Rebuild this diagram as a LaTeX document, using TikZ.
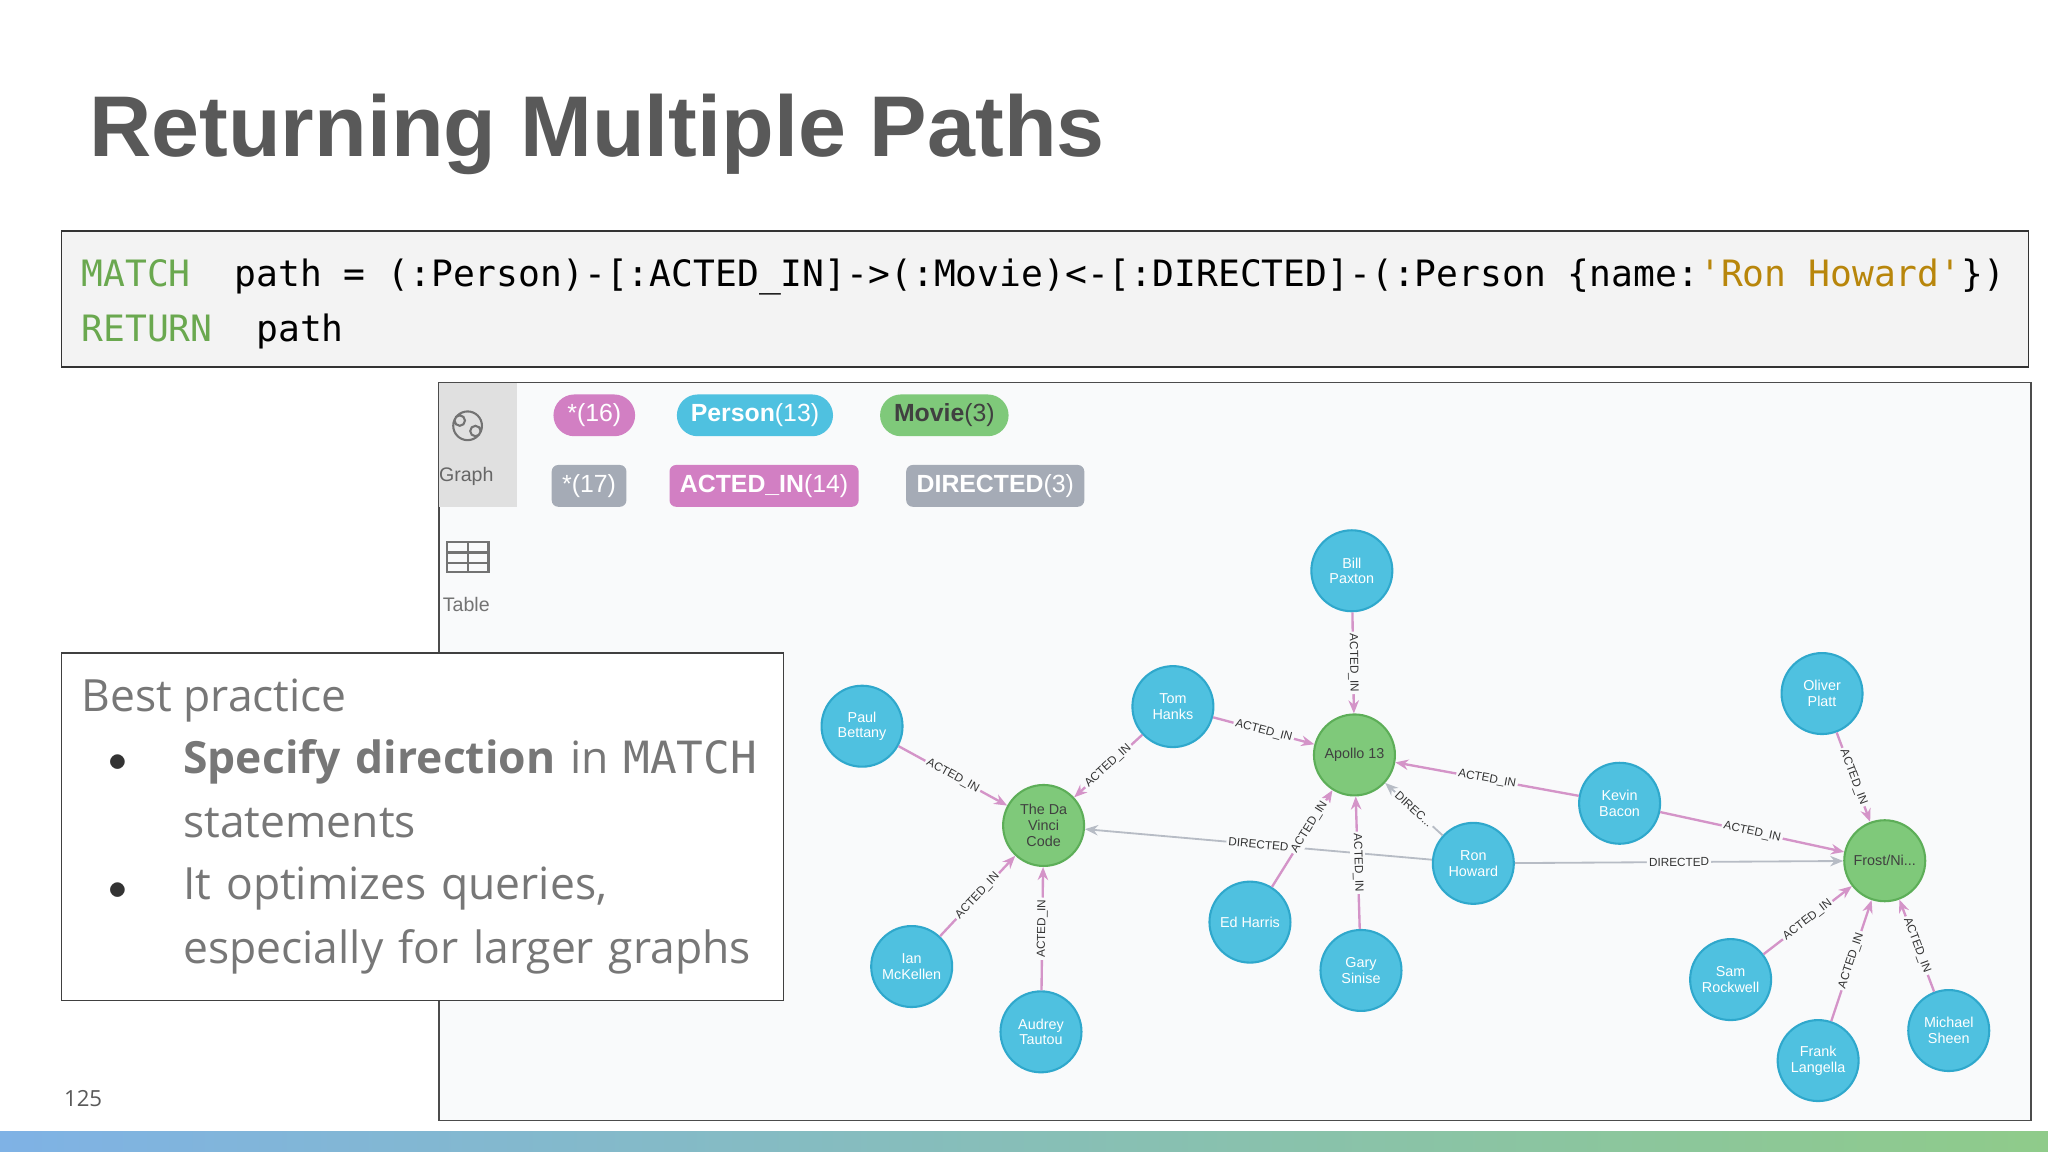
\documentclass[tikz,border=0pt]{standalone}
\usepackage{fontspec}
\setmainfont{Open Sans}
\newfontfamily\ttl{Liberation Sans}
\newfontfamily\gmono{DejaVu Sans Mono}
\usetikzlibrary{arrows.meta,shapes.misc}
\definecolor{titlegray}{HTML}{595959}
\definecolor{kwgreen}{HTML}{6AA84F}
\definecolor{strgold}{HTML}{B8860B}
\definecolor{codebg}{HTML}{F3F3F3}
\definecolor{panelbg}{HTML}{F9FAFB}
\definecolor{pblue}{HTML}{4FC1E0}
\definecolor{pblueb}{HTML}{2FA8CC}
\definecolor{mgreen}{HTML}{7FC97A}
\definecolor{mgreenb}{HTML}{5DAE58}
\definecolor{rpink}{HTML}{D27FC3}
\definecolor{epink}{HTML}{D494C8}
\definecolor{rgray}{HTML}{A5ABB6}
\definecolor{bodygray}{HTML}{777777}
\definecolor{barblue}{HTML}{7FB2E5}
\definecolor{bargreen}{HTML}{8FCB8A}
\tikzset{
 person/.style={circle,fill=pblue,draw=pblueb,line width=0.8pt,minimum size=31pt,inner sep=0pt,align=center,font=\ttl\fontsize{5.5}{6}\selectfont,text=white},
 movie/.style={circle,fill=mgreen,draw=mgreenb,line width=0.8pt,minimum size=31pt,inner sep=0pt,align=center,font=\ttl\fontsize{5.5}{6}\selectfont,text=black!75},
 acted/.style={draw=epink,line width=0.9pt,-{Stealth[length=5pt,width=4pt]}},
 directed/.style={draw=rgray!80,line width=0.7pt,-{Stealth[length=5pt,width=4pt]}},
 elab/.style={sloped,fill=panelbg,inner sep=0.8pt,font=\ttl\fontsize{4.5}{5}\selectfont,text=black!80},
 pill/.style={rounded rectangle,minimum height=16pt,inner xsep=4pt,font=\ttl\fontsize{9.5}{10}\selectfont,text=white},
 gpill/.style={rounded corners=2.5pt,minimum height=16pt,inner xsep=4pt,font=\ttl\fontsize{9.5}{10}\selectfont,text=white},
}
\begin{document}
\begin{tikzpicture}[x=0.5pt,y=-0.5pt]
\useasboundingbox (0,0) rectangle (1568,882);
\fill[white] (0,0) rectangle (1568,882);
% title
\node[anchor=west,font=\ttl\bfseries\fontsize{33}{38}\selectfont,text=titlegray,inner sep=0pt] (title) at (68,103) {Returning Multiple Paths};
% code box
\draw[fill=codebg,draw=black!80,line width=0.6pt] (47,177) rectangle (1553,281);
\node[anchor=west,font=\gmono\fontsize{13.9}{16}\selectfont,inner sep=0pt] (code1) at (62,212) {\textcolor{kwgreen}{MATCH}~~path = (:Person)-[:ACTED\_IN]->(:Movie)<-[:DIRECTED]-(:Person \{name:\textcolor{strgold}{'Ron Howard'}\})};
\node[anchor=west,font=\gmono\fontsize{13.9}{16}\selectfont,inner sep=0pt] (code2) at (62,254) {\textcolor{kwgreen}{RETURN}~~path};
% panel
\draw[fill=panelbg,draw=black!70,line width=0.6pt] (336,293) rectangle (1555,858);
\fill[black!12] (336,293) rectangle (396,388);
\draw[black!55,line width=0.8pt] (358,326) circle (11) (352,322) circle (4) (364,330) circle (4);
\node[font=\ttl\fontsize{7.5}{8}\selectfont,text=black!60] (graphlbl) at (357,365) {Graph};
\draw[black!55,line width=0.8pt] (342,415) rectangle (374,438) (342,423)--(374,423) (342,431)--(374,431) (358,415)--(358,438);
\node[font=\ttl\fontsize{7.5}{8}\selectfont,text=black!55] (tablelbl) at (357,463) {Table};
% pills
\node[pill,fill=rpink] (p1) at (455,318) {*(16)};
\node[pill,fill=pblue] (p2) at (578,318) {\textbf{Person}(13)};
\node[pill,fill=mgreen,text=black!75] (p3) at (723,318) {\textbf{Movie}(3)};
\node[gpill,fill=rgray] (p4) at (451,372) {*(17)};
\node[gpill,fill=rpink] (p5) at (585,372) {\textbf{ACTED\_IN}(14)};
\node[gpill,fill=rgray] (p6) at (762,372) {\textbf{DIRECTED}(3)};
% graph nodes
\node[person] (bill) at (1035,437) {Bill\\Paxton};
\node[person] (tom) at (898,541) {Tom\\Hanks};
\node[person] (paul) at (660,556) {Paul\\Bettany};
\node[movie] (davinci) at (799,632) {The Da\\Vinci\\Code};
\node[movie] (apollo) at (1037,578) {Apollo 13};
\node[person] (kevin) at (1240,615) {Kevin\\Bacon};
\node[person] (ron) at (1128,661) {Ron\\Howard};
\node[person] (oliver) at (1395,531) {Oliver\\Platt};
\node[movie] (frost) at (1443,659) {Frost/Ni...};
\node[person] (ed) at (957,706) {Ed Harris};
\node[person] (gary) at (1042,743) {Gary\\Sinise};
\node[person] (ian) at (698,740) {Ian\\McKellen};
\node[person] (audrey) at (797,790) {Audrey\\Tautou};
\node[person] (sam) at (1325,750) {Sam\\Rockwell};
\node[person] (frank) at (1392,812) {Frank\\Langella};
\node[person] (michael) at (1492,789) {Michael\\Sheen};
% edges
\draw[directed] (ron) -- node[elab,pos=0.5] {DIRECTED} (davinci);
\draw[acted] (paul) -- node[elab] {ACTED\_IN} (davinci);
\draw[acted] (tom) -- node[elab] {ACTED\_IN} (davinci);
\draw[acted] (ian) -- node[elab] {ACTED\_IN} (davinci);
\draw[acted] (audrey) -- node[elab] {ACTED\_IN} (davinci);
\draw[acted] (tom) -- node[elab] {ACTED\_IN} (apollo);
\draw[acted] (bill) -- node[elab] {ACTED\_IN} (apollo);
\draw[acted] (kevin) -- node[elab] {ACTED\_IN} (apollo);
\draw[acted] (ed) -- node[elab,pos=0.62] {ACTED\_IN} (apollo);
\draw[acted] (gary) -- node[elab] {ACTED\_IN} (apollo);
\draw[directed] (ron) -- node[elab] {DIREC...} (apollo);
\draw[acted] (kevin) -- node[elab] {ACTED\_IN} (frost);
\draw[directed] (ron) -- node[elab] {DIRECTED} (frost);
\draw[acted] (oliver) -- node[elab] {ACTED\_IN} (frost);
\draw[acted] (sam) -- node[elab] {ACTED\_IN} (frost);
\draw[acted] (frank) -- node[elab] {ACTED\_IN} (frost);
\draw[acted] (michael) -- node[elab] {ACTED\_IN} (frost);
% best practice box
\draw[fill=white,draw=black!75,line width=0.6pt] (47,500) rectangle (600,766);
\node[anchor=west,font=\fontsize{17}{20}\selectfont,text=bodygray,inner sep=0pt] (bp) at (62,536) {Best practice};
\node[font=\fontsize{14}{16}\selectfont,text=black!80] (b1) at (90,584) {$\bullet$};
\node[font=\fontsize{14}{16}\selectfont,text=black!80] (b2) at (90,682) {$\bullet$};
\node[anchor=north west,align=left,text width=235pt,font=\fontsize{17}{24.5}\selectfont,text=bodygray,inner sep=0pt] (t1) at (140,566) {\textbf{Specify direction} in {\gmono MATCH}\\statements};
\node[anchor=north west,align=left,text width=235pt,font=\fontsize{17}{24.5}\selectfont,text=bodygray,inner sep=0pt] (t2) at (140,663) {It optimizes queries,\\especially for larger graphs};
% footer
\node[anchor=west,font=\fontsize{8.5}{10}\selectfont,text=black!65] (pg) at (42,841) {125};
\shade[left color=barblue,right color=bargreen] (0,866) rectangle (1568,882);
\end{tikzpicture}
\end{document}
